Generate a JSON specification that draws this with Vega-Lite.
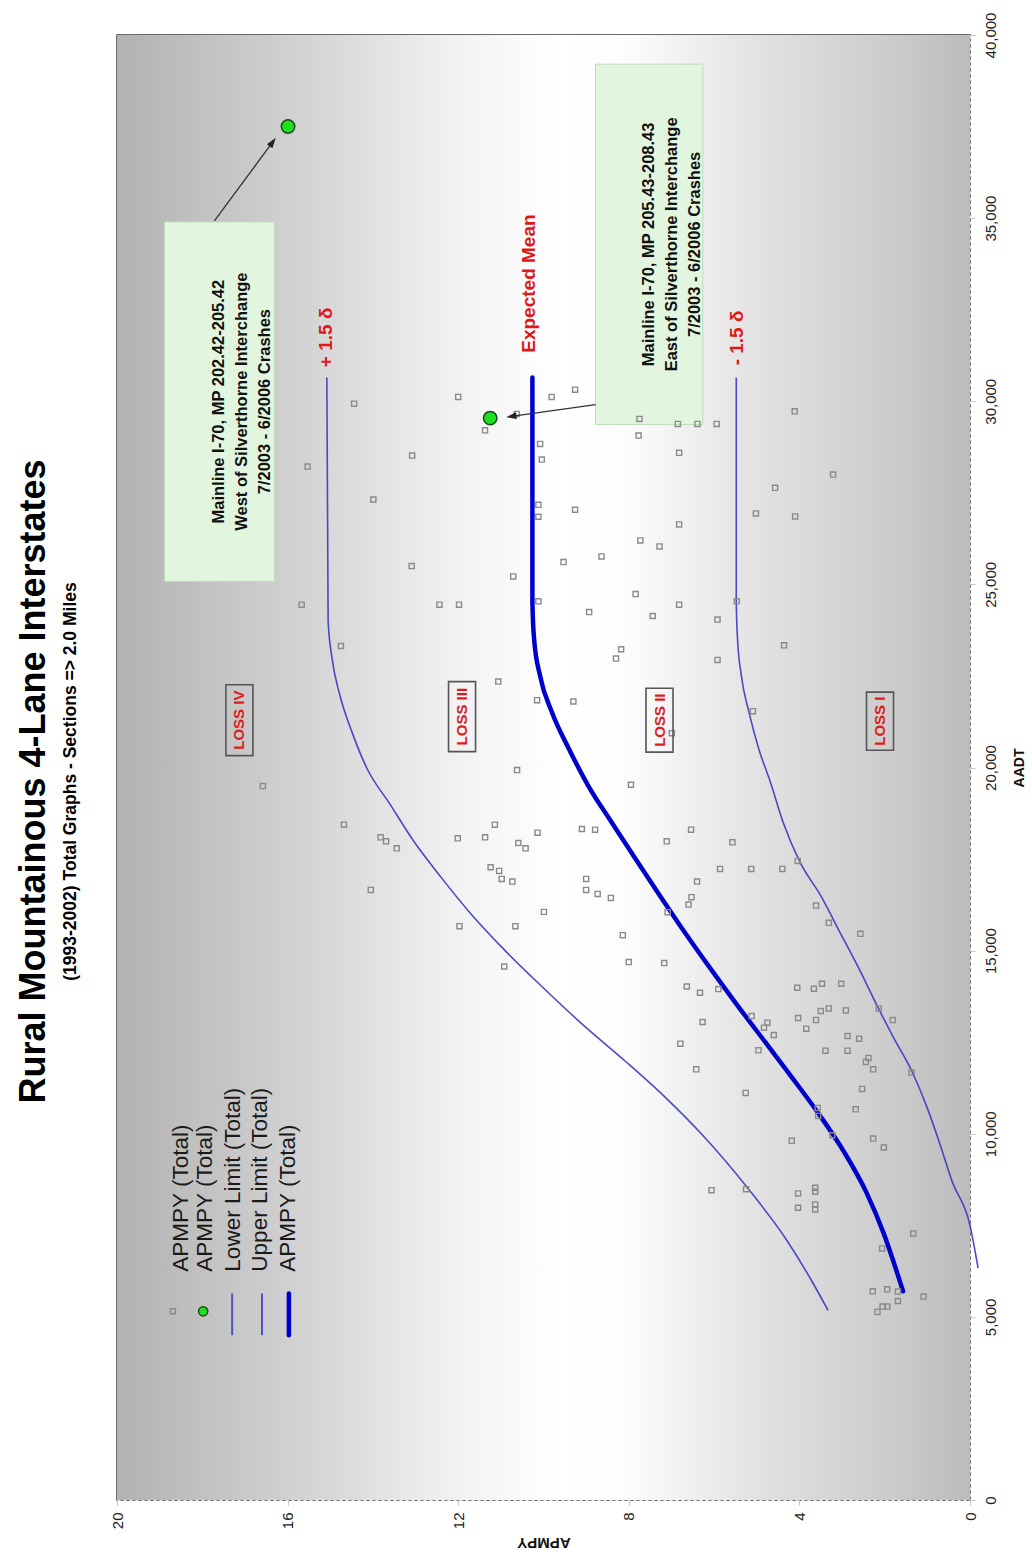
{
  "$schema": "https://vega.github.io/schema/vega-lite/v6.json",
  "width": 853,
  "height": 1465,
  "autosize": {"type": "none"},
  "padding": {"left": 117, "top": 35, "right": 62, "bottom": 54},
  "background": "white",
  "title": {
    "text": "Rural Mountainous 4-Lane Interstates",
    "subtitle": "(1993-2002) Total Graphs - Sections => 2.0 Miles",
    "orient": "left",
    "anchor": "middle",
    "font": "Liberation Sans",
    "fontSize": 36,
    "fontWeight": "bold",
    "color": "#000000",
    "subtitleFont": "Liberation Sans",
    "subtitleFontSize": 17.5,
    "subtitleFontWeight": "bold",
    "subtitleColor": "#000000",
    "subtitlePadding": 9,
    "offset": 30,
    "dx": -14
  },
  "config": {
    "view": {"stroke": "#3a3a3a", "strokeWidth": 1.5},
    "font": "Liberation Sans",
    "axis": {
      "zindex": 1,
      "grid": true,
      "gridColor": "#e2e2e2",
      "gridDash": [3, 3],
      "gridWidth": 1,
      "domain": false,
      "tickColor": "#c4c4c4",
      "tickSize": 5,
      "labelFont": "Liberation Sans",
      "labelFontSize": 15,
      "labelColor": "#222222",
      "titleFont": "Liberation Sans",
      "titleFontSize": 15,
      "titleFontWeight": "bold",
      "titleColor": "#111111"
    }
  },
  "datasets": {
    "curves": [
      {"series": "upper", "aadt": 5180, "apmpy": 3.33},
      {"series": "upper", "aadt": 6000, "apmpy": 3.72},
      {"series": "upper", "aadt": 7100, "apmpy": 4.3},
      {"series": "upper", "aadt": 8500, "apmpy": 5.2},
      {"series": "upper", "aadt": 10000, "apmpy": 6.3},
      {"series": "upper", "aadt": 11000, "apmpy": 7.15},
      {"series": "upper", "aadt": 12000, "apmpy": 8.1},
      {"series": "upper", "aadt": 13000, "apmpy": 9.1},
      {"series": "upper", "aadt": 14000, "apmpy": 10.02},
      {"series": "upper", "aadt": 15000, "apmpy": 10.9},
      {"series": "upper", "aadt": 16000, "apmpy": 11.7},
      {"series": "upper", "aadt": 17000, "apmpy": 12.4},
      {"series": "upper", "aadt": 18000, "apmpy": 13.05},
      {"series": "upper", "aadt": 19000, "apmpy": 13.6},
      {"series": "upper", "aadt": 20000, "apmpy": 14.15},
      {"series": "upper", "aadt": 21000, "apmpy": 14.5},
      {"series": "upper", "aadt": 22000, "apmpy": 14.78},
      {"series": "upper", "aadt": 23000, "apmpy": 14.96},
      {"series": "upper", "aadt": 24000, "apmpy": 15.05},
      {"series": "upper", "aadt": 30650, "apmpy": 15.08},
      {"series": "mean", "aadt": 5700, "apmpy": 1.57},
      {"series": "mean", "aadt": 7300, "apmpy": 2.03},
      {"series": "mean", "aadt": 8400, "apmpy": 2.43},
      {"series": "mean", "aadt": 9500, "apmpy": 2.95},
      {"series": "mean", "aadt": 10500, "apmpy": 3.52},
      {"series": "mean", "aadt": 11500, "apmpy": 4.15},
      {"series": "mean", "aadt": 12500, "apmpy": 4.8},
      {"series": "mean", "aadt": 13500, "apmpy": 5.45},
      {"series": "mean", "aadt": 14500, "apmpy": 6.08},
      {"series": "mean", "aadt": 15500, "apmpy": 6.69},
      {"series": "mean", "aadt": 16500, "apmpy": 7.27},
      {"series": "mean", "aadt": 17500, "apmpy": 7.84},
      {"series": "mean", "aadt": 18500, "apmpy": 8.4},
      {"series": "mean", "aadt": 19500, "apmpy": 8.95},
      {"series": "mean", "aadt": 20500, "apmpy": 9.4},
      {"series": "mean", "aadt": 21500, "apmpy": 9.8},
      {"series": "mean", "aadt": 22500, "apmpy": 10.08},
      {"series": "mean", "aadt": 23500, "apmpy": 10.22},
      {"series": "mean", "aadt": 24500, "apmpy": 10.26},
      {"series": "mean", "aadt": 30650, "apmpy": 10.26},
      {"series": "lower", "aadt": 6330, "apmpy": -0.19},
      {"series": "lower", "aadt": 7500, "apmpy": 0.0},
      {"series": "lower", "aadt": 8700, "apmpy": 0.42},
      {"series": "lower", "aadt": 9700, "apmpy": 0.7},
      {"series": "lower", "aadt": 10700, "apmpy": 1.0},
      {"series": "lower", "aadt": 11700, "apmpy": 1.36},
      {"series": "lower", "aadt": 12600, "apmpy": 1.78},
      {"series": "lower", "aadt": 13500, "apmpy": 2.18},
      {"series": "lower", "aadt": 14500, "apmpy": 2.6},
      {"series": "lower", "aadt": 15500, "apmpy": 3.05},
      {"series": "lower", "aadt": 16500, "apmpy": 3.5},
      {"series": "lower", "aadt": 17400, "apmpy": 3.98},
      {"series": "lower", "aadt": 18500, "apmpy": 4.38},
      {"series": "lower", "aadt": 19600, "apmpy": 4.68},
      {"series": "lower", "aadt": 20500, "apmpy": 4.95},
      {"series": "lower", "aadt": 21500, "apmpy": 5.18},
      {"series": "lower", "aadt": 22500, "apmpy": 5.36},
      {"series": "lower", "aadt": 23500, "apmpy": 5.45},
      {"series": "lower", "aadt": 24500, "apmpy": 5.48},
      {"series": "lower", "aadt": 30650, "apmpy": 5.48}
    ],
    "points": [
      {"apmpy": 3.57, "aadt": 10706}, {"apmpy": 3.56, "aadt": 10488}, {"apmpy": 2.68, "aadt": 10668},
      {"apmpy": 4.18, "aadt": 9806}, {"apmpy": 3.23, "aadt": 9959}, {"apmpy": 2.27, "aadt": 9869},
      {"apmpy": 2.02, "aadt": 9624}, {"apmpy": 6.06, "aadt": 8460}, {"apmpy": 5.25, "aadt": 8487},
      {"apmpy": 4.03, "aadt": 8370}, {"apmpy": 3.63, "aadt": 8525}, {"apmpy": 3.63, "aadt": 8416},
      {"apmpy": 4.03, "aadt": 7980}, {"apmpy": 3.63, "aadt": 8070}, {"apmpy": 3.63, "aadt": 7934},
      {"apmpy": 1.33, "aadt": 7279}, {"apmpy": 2.06, "aadt": 6870}, {"apmpy": 2.28, "aadt": 5698},
      {"apmpy": 1.94, "aadt": 5752}, {"apmpy": 1.69, "aadt": 5690}, {"apmpy": 1.69, "aadt": 5433},
      {"apmpy": 1.09, "aadt": 5553}, {"apmpy": 2.05, "aadt": 5281}, {"apmpy": 1.94, "aadt": 5281},
      {"apmpy": 2.17, "aadt": 5134},
      {"apmpy": 7.95, "aadt": 19529}, {"apmpy": 6.54, "aadt": 18302}, {"apmpy": 7.11, "aadt": 17985},
      {"apmpy": 5.57, "aadt": 17958}, {"apmpy": 4.04, "aadt": 17448}, {"apmpy": 5.86, "aadt": 17230},
      {"apmpy": 5.13, "aadt": 17230}, {"apmpy": 4.4, "aadt": 17230}, {"apmpy": 6.4, "aadt": 16884},
      {"apmpy": 6.53, "aadt": 16459}, {"apmpy": 6.6, "aadt": 16257}, {"apmpy": 8.42, "aadt": 16440},
      {"apmpy": 7.09, "aadt": 16050}, {"apmpy": 3.61, "aadt": 16230}, {"apmpy": 3.31, "aadt": 15758},
      {"apmpy": 2.57, "aadt": 15458}, {"apmpy": 8.14, "aadt": 15423}, {"apmpy": 8.0, "aadt": 14687},
      {"apmpy": 7.17, "aadt": 14659}, {"apmpy": 6.64, "aadt": 14021}, {"apmpy": 6.33, "aadt": 13850},
      {"apmpy": 5.9, "aadt": 13950}, {"apmpy": 4.05, "aadt": 13986}, {"apmpy": 3.66, "aadt": 13959},
      {"apmpy": 3.47, "aadt": 14095}, {"apmpy": 3.02, "aadt": 14095}, {"apmpy": 3.5, "aadt": 13351},
      {"apmpy": 3.31, "aadt": 13422}, {"apmpy": 2.91, "aadt": 13367}, {"apmpy": 2.14, "aadt": 13422},
      {"apmpy": 1.81, "aadt": 13105}, {"apmpy": 5.12, "aadt": 13214}, {"apmpy": 4.75, "aadt": 13032},
      {"apmpy": 4.83, "aadt": 12895}, {"apmpy": 4.6, "aadt": 12696}, {"apmpy": 4.03, "aadt": 13160},
      {"apmpy": 3.61, "aadt": 13105}, {"apmpy": 3.84, "aadt": 12868}, {"apmpy": 2.87, "aadt": 12669},
      {"apmpy": 2.6, "aadt": 12596}, {"apmpy": 6.27, "aadt": 13051}, {"apmpy": 6.79, "aadt": 12459},
      {"apmpy": 4.96, "aadt": 12277}, {"apmpy": 3.39, "aadt": 12268}, {"apmpy": 2.87, "aadt": 12268},
      {"apmpy": 2.38, "aadt": 12069}, {"apmpy": 2.44, "aadt": 11960}, {"apmpy": 2.27, "aadt": 11758},
      {"apmpy": 1.37, "aadt": 11669}, {"apmpy": 6.42, "aadt": 11758}, {"apmpy": 5.26, "aadt": 11115},
      {"apmpy": 2.53, "aadt": 11224},
      {"apmpy": 14.75, "aadt": 23318}, {"apmpy": 8.18, "aadt": 23228}, {"apmpy": 8.3, "aadt": 22974},
      {"apmpy": 5.92, "aadt": 22937}, {"apmpy": 11.06, "aadt": 22347}, {"apmpy": 10.15, "aadt": 21838},
      {"apmpy": 9.3, "aadt": 21802}, {"apmpy": 6.99, "aadt": 20938}, {"apmpy": 10.62, "aadt": 19929},
      {"apmpy": 14.68, "aadt": 18438}, {"apmpy": 13.82, "aadt": 18094}, {"apmpy": 13.69, "aadt": 17985},
      {"apmpy": 13.44, "aadt": 17794}, {"apmpy": 12.01, "aadt": 18067}, {"apmpy": 11.37, "aadt": 18094},
      {"apmpy": 11.14, "aadt": 18438}, {"apmpy": 10.59, "aadt": 17939}, {"apmpy": 10.42, "aadt": 17794},
      {"apmpy": 10.14, "aadt": 18220}, {"apmpy": 9.1, "aadt": 18321}, {"apmpy": 8.79, "aadt": 18302},
      {"apmpy": 14.05, "aadt": 16658}, {"apmpy": 11.24, "aadt": 17277}, {"apmpy": 11.04, "aadt": 17176},
      {"apmpy": 10.98, "aadt": 16958}, {"apmpy": 10.73, "aadt": 16884}, {"apmpy": 9.0, "aadt": 16958},
      {"apmpy": 9.0, "aadt": 16658}, {"apmpy": 8.73, "aadt": 16549}, {"apmpy": 9.99, "aadt": 16058},
      {"apmpy": 11.97, "aadt": 15668}, {"apmpy": 10.66, "aadt": 15668}, {"apmpy": 10.92, "aadt": 14567},
      {"apmpy": 12.0, "aadt": 30118}, {"apmpy": 14.44, "aadt": 29935}, {"apmpy": 9.81, "aadt": 30118},
      {"apmpy": 9.26, "aadt": 30316}, {"apmpy": 10.63, "aadt": 29654}, {"apmpy": 11.37, "aadt": 29207},
      {"apmpy": 7.75, "aadt": 29518}, {"apmpy": 6.85, "aadt": 29381}, {"apmpy": 6.39, "aadt": 29381},
      {"apmpy": 5.94, "aadt": 29381}, {"apmpy": 7.77, "aadt": 29062}, {"apmpy": 6.82, "aadt": 28591},
      {"apmpy": 10.08, "aadt": 28836}, {"apmpy": 10.04, "aadt": 28408}, {"apmpy": 13.08, "aadt": 28517},
      {"apmpy": 15.53, "aadt": 28217}, {"apmpy": 4.57, "aadt": 27637}, {"apmpy": 5.02, "aadt": 26936},
      {"apmpy": 13.99, "aadt": 27318}, {"apmpy": 10.12, "aadt": 27173}, {"apmpy": 10.12, "aadt": 26846},
      {"apmpy": 9.26, "aadt": 27037}, {"apmpy": 6.82, "aadt": 26636}, {"apmpy": 7.73, "aadt": 26200},
      {"apmpy": 7.28, "aadt": 26036}, {"apmpy": 8.64, "aadt": 25764}, {"apmpy": 9.53, "aadt": 25608},
      {"apmpy": 13.09, "aadt": 25499}, {"apmpy": 10.71, "aadt": 25218}, {"apmpy": 7.84, "aadt": 24736},
      {"apmpy": 15.67, "aadt": 24447}, {"apmpy": 12.44, "aadt": 24447}, {"apmpy": 11.98, "aadt": 24447},
      {"apmpy": 10.12, "aadt": 24537}, {"apmpy": 6.82, "aadt": 24447}, {"apmpy": 8.93, "aadt": 24245},
      {"apmpy": 7.44, "aadt": 24136}, {"apmpy": 5.92, "aadt": 24038}, {"apmpy": 5.47, "aadt": 24537},
      {"apmpy": 4.11, "aadt": 29725},
      {"apmpy": 3.21, "aadt": 27999}, {"apmpy": 4.1, "aadt": 26854}, {"apmpy": 4.36, "aadt": 23337},
      {"apmpy": 5.09, "aadt": 21538}, {"apmpy": 16.58, "aadt": 19493}
    ],
    "special": [
      {"apmpy": 15.99, "aadt": 37500},
      {"apmpy": 11.25, "aadt": 29540}
    ],
    "boxes": [
      {"apmpy": 18.886, "apmpy2": 16.307, "aadt": 25082, "aadt2": 34897},
      {"apmpy": 8.781, "apmpy2": 6.265, "aadt": 29362, "aadt2": 39204}
    ],
    "boxtext": [
      {"apmpy": 17.597, "aadt": 29989, "text": ["Mainline I-70, MP 202.42-205.42", "West of Silverthorne Interchange", "7/2003 - 6/2006 Crashes"]},
      {"apmpy": 7.526, "aadt": 34283, "text": ["Mainline I-70, MP 205.43-208.43", "East of Silverthorne Interchange", "7/2003 - 6/2006 Crashes"]}
    ],
    "arrows": [
      {"apmpy": 17.716, "aadt": 34924, "apmpy2": 16.349, "aadt2": 37080},
      {"apmpy": 8.778, "aadt": 29908, "apmpy2": 10.755, "aadt2": 29586}
    ],
    "loss": [
      {"label": "LOSS IV", "apmpy": 17.13, "aadt": 21292},
      {"label": "LOSS III", "apmpy": 11.91, "aadt": 21388},
      {"label": "LOSS II", "apmpy": 7.28, "aadt": 21292},
      {"label": "LOSS I", "apmpy": 2.11, "aadt": 21265}
    ],
    "limitlabels": [
      {"label": "+ 1.5 δ", "apmpy": 15.1, "aadt": 30930},
      {"label": "Expected Mean", "apmpy": 10.33, "aadt": 31325},
      {"label": "- 1.5 δ", "apmpy": 5.46, "aadt": 30980}
    ],
    "legendtext": [
      {"label": "APMPY (Total)", "apmpy": 18.49, "aadt": 6235},
      {"label": "APMPY (Total)", "apmpy": 17.94, "aadt": 6235},
      {"label": "Lower Limit (Total)", "apmpy": 17.29, "aadt": 6235},
      {"label": "Upper Limit (Total)", "apmpy": 16.65, "aadt": 6235},
      {"label": "APMPY (Total)", "apmpy": 16.0, "aadt": 6235}
    ]
  },
  "layer": [
    {
      "data": {"values": [{}]},
      "mark": {
        "type": "rect",
        "color": {
          "gradient": "linear", "x1": 0, "y1": 0, "x2": 1, "y2": 0,
          "stops": [
            {"offset": 0, "color": "#b2b2b2"},
            {"offset": 0.2, "color": "#d0d0d0"},
            {"offset": 0.4, "color": "#f2f2f2"},
            {"offset": 0.52, "color": "#ffffff"},
            {"offset": 0.6, "color": "#fcfcfc"},
            {"offset": 0.75, "color": "#e2e2e2"},
            {"offset": 0.9, "color": "#cdcdcd"},
            {"offset": 1, "color": "#bcbcbc"}
          ]
        }
      },
      "encoding": {
        "x": {"datum": 0, "type": "quantitative"},
        "x2": {"datum": 20},
        "y": {"datum": 0, "type": "quantitative"},
        "y2": {"datum": 40000}
      }
    },
    {
      "data": {"name": "boxes"},
      "mark": {"type": "rect", "fill": "#e2f6df", "stroke": "#bcdcb8", "strokeWidth": 1},
      "encoding": {
        "x": {"field": "apmpy", "type": "quantitative"},
        "x2": {"field": "apmpy2"},
        "y": {"field": "aadt", "type": "quantitative"},
        "y2": {"field": "aadt2"}
      }
    },
    {
      "data": {"name": "curves"},
      "transform": [{"filter": "datum.series !== 'mean'"}],
      "mark": {"type": "line", "color": "#3838c0", "strokeWidth": 1.6, "opacity": 0.9, "interpolate": "monotone"},
      "encoding": {
        "x": {"field": "apmpy", "type": "quantitative"},
        "y": {"field": "aadt", "type": "quantitative"},
        "detail": {"field": "series"},
        "order": {"field": "aadt", "type": "quantitative"}
      }
    },
    {
      "data": {"name": "curves"},
      "transform": [{"filter": "datum.series === 'mean'"}],
      "mark": {"type": "line", "color": "#0000cc", "strokeWidth": 4.5, "strokeCap": "round", "interpolate": "monotone"},
      "encoding": {
        "x": {"field": "apmpy", "type": "quantitative"},
        "y": {"field": "aadt", "type": "quantitative"},
        "order": {"field": "aadt", "type": "quantitative"}
      }
    },
    {
      "data": {"name": "points"},
      "mark": {"type": "point", "shape": "square", "filled": false, "stroke": "#8a8a8a", "strokeWidth": 1.4, "size": 26, "opacity": 1},
      "encoding": {
        "x": {
          "field": "apmpy", "type": "quantitative",
          "scale": {"domain": [0, 20], "reverse": true, "nice": false, "zero": false},
          "axis": {"values": [0, 4, 8, 12, 16, 20], "labelAngle": -90, "labelPadding": 7, "title": "APMPY", "titleAngle": 180, "titleBaseline": "bottom", "titlePadding": 6}
        },
        "y": {
          "field": "aadt", "type": "quantitative",
          "scale": {"domain": [0, 40000], "nice": false, "zero": true},
          "axis": {"orient": "right", "values": [0, 5000, 10000, 15000, 20000, 25000, 30000, 35000, 40000], "format": ",.0f", "labelAngle": -90, "labelAlign": "center", "labelBaseline": "top", "labelPadding": 8, "title": "AADT", "titleAngle": -90, "titleBaseline": "top", "titlePadding": 14, "titleFontSize": 14}
        }
      }
    },
    {
      "data": {"name": "special"},
      "mark": {"type": "point", "shape": "circle", "filled": true, "fill": "#1fe01f", "stroke": "#1a4a1a", "strokeWidth": 1.5, "size": 180, "opacity": 1},
      "encoding": {
        "x": {"field": "apmpy", "type": "quantitative"},
        "y": {"field": "aadt", "type": "quantitative"}
      }
    },
    {
      "data": {"name": "arrows"},
      "mark": {"type": "rule", "color": "#333333", "strokeWidth": 1.3},
      "encoding": {
        "x": {"field": "apmpy", "type": "quantitative"},
        "y": {"field": "aadt", "type": "quantitative"},
        "x2": {"field": "apmpy2"},
        "y2": {"field": "aadt2"}
      }
    },
    {
      "data": {"values": [{"apmpy": 16.349, "aadt": 37080}]},
      "mark": {"type": "point", "shape": "M0,-1L0.65,1L-0.65,1Z", "filled": true, "color": "#222222", "size": 110, "angle": 36, "opacity": 1},
      "encoding": {
        "x": {"field": "apmpy", "type": "quantitative"},
        "y": {"field": "aadt", "type": "quantitative"}
      }
    },
    {
      "data": {"values": [{"apmpy": 10.755, "aadt": 29586}]},
      "mark": {"type": "point", "shape": "M0,-1L0.65,1L-0.65,1Z", "filled": true, "color": "#222222", "size": 110, "angle": 262, "opacity": 1},
      "encoding": {
        "x": {"field": "apmpy", "type": "quantitative"},
        "y": {"field": "aadt", "type": "quantitative"}
      }
    },
    {
      "data": {"name": "loss"},
      "mark": {"type": "point", "filled": false, "stroke": "#555555", "strokeWidth": 1.6, "size": 4900, "opacity": 1},
      "encoding": {
        "x": {"field": "apmpy", "type": "quantitative"},
        "y": {"field": "aadt", "type": "quantitative"},
        "shape": {
          "field": "label", "type": "nominal", "legend": null,
          "scale": {
            "domain": ["LOSS IV", "LOSS III", "LOSS II", "LOSS I"],
            "range": ["M-0.386,-1.014H0.386V1.014H-0.386Z", "M-0.386,-1H0.386V1H-0.386Z", "M-0.386,-0.914H0.386V0.914H-0.386Z", "M-0.386,-0.829H0.386V0.829H-0.386Z"]
          }
        }
      }
    },
    {
      "data": {"name": "loss"},
      "mark": {"type": "text", "angle": 270, "align": "center", "baseline": "middle", "font": "Liberation Sans", "fontSize": 15, "fontWeight": "bold", "color": "#dd1c1c"},
      "encoding": {
        "x": {"field": "apmpy", "type": "quantitative"},
        "y": {"field": "aadt", "type": "quantitative"},
        "text": {"field": "label"}
      }
    },
    {
      "data": {"name": "limitlabels"},
      "mark": {"type": "text", "angle": 270, "align": "left", "baseline": "middle", "font": "Liberation Sans", "fontSize": 19, "fontWeight": "bold", "color": "#e01818"},
      "encoding": {
        "x": {"field": "apmpy", "type": "quantitative"},
        "y": {"field": "aadt", "type": "quantitative"},
        "text": {"field": "label"}
      }
    },
    {
      "data": {"name": "boxtext"},
      "mark": {"type": "text", "angle": 270, "align": "center", "baseline": "middle", "font": "Liberation Sans", "fontSize": 16.5, "fontWeight": "bold", "color": "#111111", "lineHeight": 23},
      "encoding": {
        "x": {"field": "apmpy", "type": "quantitative"},
        "y": {"field": "aadt", "type": "quantitative"},
        "text": {"field": "text"}
      }
    },
    {
      "data": {"values": [{"apmpy": 18.69, "aadt": 5153}]},
      "mark": {"type": "point", "shape": "square", "filled": false, "stroke": "#8a8a8a", "strokeWidth": 1.4, "size": 26, "opacity": 1},
      "encoding": {
        "x": {"field": "apmpy", "type": "quantitative"},
        "y": {"field": "aadt", "type": "quantitative"}
      }
    },
    {
      "data": {"values": [{"apmpy": 17.98, "aadt": 5153}]},
      "mark": {"type": "point", "shape": "circle", "filled": true, "fill": "#1fe01f", "stroke": "#1a4a1a", "strokeWidth": 1.5, "size": 85, "opacity": 1},
      "encoding": {
        "x": {"field": "apmpy", "type": "quantitative"},
        "y": {"field": "aadt", "type": "quantitative"}
      }
    },
    {
      "data": {"values": [{"apmpy": 17.3, "aadt": 4500, "aadt2": 5640}, {"apmpy": 16.6, "aadt": 4500, "aadt2": 5640}]},
      "mark": {"type": "rule", "color": "#5050c8", "strokeWidth": 2},
      "encoding": {
        "x": {"field": "apmpy", "type": "quantitative"},
        "y": {"field": "aadt", "type": "quantitative"},
        "y2": {"field": "aadt2"}
      }
    },
    {
      "data": {"values": [{"apmpy": 15.97, "aadt": 4500, "aadt2": 5640}]},
      "mark": {"type": "rule", "color": "#0000cc", "strokeWidth": 4.5, "strokeCap": "round"},
      "encoding": {
        "x": {"field": "apmpy", "type": "quantitative"},
        "y": {"field": "aadt", "type": "quantitative"},
        "y2": {"field": "aadt2"}
      }
    },
    {
      "data": {"name": "legendtext"},
      "mark": {"type": "text", "angle": 270, "align": "left", "baseline": "middle", "font": "Liberation Sans", "fontSize": 22.5, "color": "#1a1a1a"},
      "encoding": {
        "x": {"field": "apmpy", "type": "quantitative"},
        "y": {"field": "aadt", "type": "quantitative"},
        "text": {"field": "label"}
      }
    }
  ]
}
